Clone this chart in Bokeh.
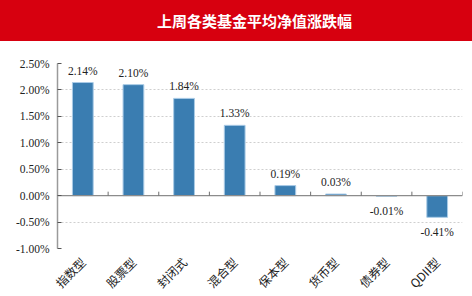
from math import pi
from bokeh.plotting import figure
from bokeh.models import (ColumnDataSource, Range1d, FixedTicker, PrintfTickFormatter,
                          Div, LabelSet)
from bokeh.layouts import column
from bokeh.embed import file_html
from bokeh.resources import INLINE

title = "上周各类基金平均净值涨跌幅"
categories = ["指数型", "股票型", "封闭式", "混合型", "保本型", "货币型", "债券型", "QDII型"]
values = [2.14, 2.10, 1.84, 1.33, 0.19, 0.03, -0.01, -0.41]
y_ticks = [-1.0, -0.5, 0.0, 0.5, 1.0, 1.5, 2.0, 2.5]

n = len(categories)
xc = [i + 0.5 for i in range(n)]
labels = [f"{v:.2f}%" for v in values]
pos = [v >= 0 for v in values]

src_pos = ColumnDataSource(dict(x=[x for x, p in zip(xc, pos) if p],
                                y=[v for v, p in zip(values, pos) if p],
                                t=[t for t, p in zip(labels, pos) if p]))
src_neg = ColumnDataSource(dict(x=[x for x, p in zip(xc, pos) if not p],
                                y=[v for v, p in zip(values, pos) if not p],
                                t=[t for t, p in zip(labels, pos) if not p]))
src = ColumnDataSource(dict(x=xc, top=values))

header = Div(text=title, width=472, height=41, margin=0,
             styles={"background-color": "#D7000F", "color": "white",
                     "font-family": "'Noto Sans CJK SC'", "font-size": "15px",
                     "font-weight": "bold", "line-height": "41px",
                     "padding-left": "157px", "box-sizing": "border-box",
                     "white-space": "nowrap"})

p = figure(frame_width=405, frame_height=185, output_backend="svg", toolbar_location=None,
           x_range=Range1d(0, n), y_range=Range1d(y_ticks[0], y_ticks[-1]),
           min_border_left=57, min_border_right=10, min_border_top=22,
           min_border_bottom=48, margin=0)
p.outline_line_color = None
p.background_fill_color = "white"
p.border_fill_color = "white"

p.vbar(x="x", top="top", bottom=0, width=0.41, source=src,
       fill_color="#3A7DB1", line_color="#A9CBE6", line_width=1)

# zero axis line and category boundary ticks
p.segment(x0=[0], y0=[0], x1=[n], y1=[0], line_color="#8C8C8C", line_width=1.3)
p.segment(x0=list(range(1, n + 1)), y0=[0] * n, x1=list(range(1, n + 1)),
          y1=[0.075] * n, line_color="#6E6E6E", line_width=1)

font_serif = "Liberation Serif"
p.add_layout(LabelSet(x="x", y="y", text="t", source=src_pos, y_offset=6,
                      text_align="center", text_baseline="bottom",
                      text_font=font_serif, text_font_size="11.5px",
                      text_color="#222222"))
p.add_layout(LabelSet(x="x", y="y", text="t", source=src_neg, y_offset=-9,
                      text_align="center", text_baseline="top",
                      text_font=font_serif, text_font_size="11.5px",
                      text_color="#222222"))

# y axis
p.yaxis.ticker = FixedTicker(ticks=y_ticks)
p.yaxis.formatter = PrintfTickFormatter(format="%.2f%%")
p.yaxis.major_label_text_font = font_serif
p.yaxis.major_label_text_font_size = "11.5px"
p.yaxis.major_label_text_color = "#222222"
p.yaxis.axis_line_color = "#9A9A9A"
p.yaxis.axis_line_width = 1.5
p.yaxis.major_tick_in = 4
p.yaxis.major_tick_out = 0
p.yaxis.major_tick_line_color = "#555555"
p.yaxis.minor_tick_line_color = None
p.yaxis.major_label_standoff = 8

# x axis (labels only)
p.xaxis.ticker = FixedTicker(ticks=xc)
p.xaxis.major_label_overrides = {x: c for x, c in zip(xc, categories)}
p.xaxis.major_label_orientation = pi / 4
p.xaxis.major_label_text_font = "Noto Sans CJK SC"
p.xaxis.major_label_text_font_size = "12px"
p.xaxis.major_label_text_color = "#222222"
p.xaxis.axis_line_color = None
p.xaxis.major_tick_line_color = None
p.xaxis.minor_tick_line_color = None
p.xaxis.major_tick_in = 0
p.xaxis.major_tick_out = 0
p.xaxis.major_label_standoff = 11

p.xgrid.grid_line_color = None
p.ygrid.ticker = FixedTicker(ticks=[t for t in y_ticks if t != 0])
p.ygrid.grid_line_color = "#CFCFCF"
p.ygrid.grid_line_dash = "2 2"
p.ygrid.grid_line_width = 1

layout = column(header, p, spacing=0, margin=0)
open("out.html", "w").write(file_html(layout, INLINE))
